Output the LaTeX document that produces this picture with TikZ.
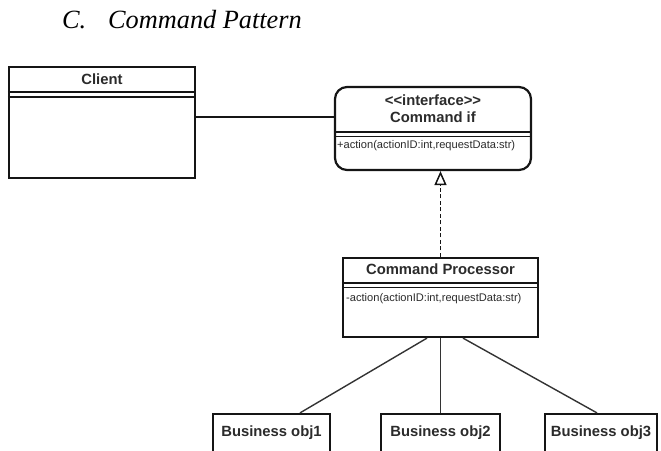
\documentclass[tikz,border=0pt]{standalone}
\usepackage{fontspec}
\setmainfont{Liberation Serif}
\setsansfont{Liberation Sans}
\usetikzlibrary{arrows.meta,calc}
\definecolor{ink}{HTML}{151515}
\definecolor{txt}{HTML}{2B2B2B}
\definecolor{wire}{HTML}{333333}

\begin{document}
\begin{tikzpicture}[x=1pt,y=-1pt,
  box/.style={draw=ink, line width=2.2pt, inner sep=0pt, fill=white},
  hd/.style={font=\sffamily\bfseries\fontsize{14.8}{16}\selectfont, text=txt, inner sep=0pt, anchor=base},
  op/.style={font=\sffamily\fontsize{11.1}{12}\selectfont, text=txt, inner sep=0pt, anchor=base west},
  sep/.style={draw=ink, line width=1.6pt},
  link/.style={draw=ink, line width=2pt},
  assoc/.style={draw=wire, line width=1.4pt},
  realize/.style={draw=ink, line width=1.7pt, dash pattern=on 4pt off 2.5pt,
    -{Triangle[open, length=14pt, width=12pt, line width=1.5pt]}}
]
\useasboundingbox (0,0) rectangle (661,450);

% section heading
\node[font=\itshape\fontsize{26.3}{30}\selectfont, anchor=base west, inner sep=0pt] (hC) at (62,28) {C.};
\node[font=\itshape\fontsize{26.3}{30}\selectfont, anchor=base west, inner sep=0pt] (hT) at (108,28) {Command Pattern};

% Client class
\node[box, minimum width=186pt, minimum height=111pt] (client) at (102,122.5) {};
\node[hd] (clientname) at (102,84) {Client};
\draw[sep] (client.west |- 0,92) -- (client.east |- 0,92);
\draw[sep] (client.west |- 0,97) -- (client.east |- 0,97);

% Command interface
\node[box, rounded corners=12pt, minimum width=196pt, minimum height=83pt] (cmd) at (433,128.5) {};
\node[hd] (cmdst) at (433,105) {<{}<interface>{}>};
\node[hd] (cmdname) at (433,122) {Command if};
\draw[sep] (cmd.west |- 0,132) -- (cmd.east |- 0,132);
\draw[sep] (cmd.west |- 0,136.5) -- (cmd.east |- 0,136.5);
\node[op] (cmdop) at (337,148) {+action(actionID:int,requestData:str)};

% Command processor
\node[box, minimum width=195pt, minimum height=79pt] (cp) at (440.5,297.5) {};
\node[hd] (cpname) at (440.5,274) {Command Processor};
\draw[sep] (cp.west |- 0,283) -- (cp.east |- 0,283);
\draw[sep] (cp.west |- 0,287.5) -- (cp.east |- 0,287.5);
\node[op] (cpop) at (346,301) {-action(actionID:int,requestData:str)};

% Business objects
\node[box, minimum width=117pt, minimum height=40pt] (b1) at (271.5,434) {};
\node[hd] at (271.5,436) {Business obj1};
\node[box, minimum width=119pt, minimum height=40pt] (b2) at (440.5,434) {};
\node[hd] at (440.5,436) {Business obj2};
\node[box, minimum width=112pt, minimum height=40pt] (b3) at (601,434) {};
\node[hd] at (601,436) {Business obj3};

% connectors
\draw[link] (client.east |- 0,117) -- (cmd.west |- 0,117);
\draw[realize] (cp.north) -- (cp.north |- cmd.south);
\draw[assoc] ([xshift=-13.5pt]cp.south) -- ([xshift=28.5pt]b1.north);
\draw[assoc] (cp.south) -- (b2.north);
\draw[assoc] ([xshift=22.5pt]cp.south) -- ([xshift=-4pt]b3.north);
\end{tikzpicture}
\end{document}
